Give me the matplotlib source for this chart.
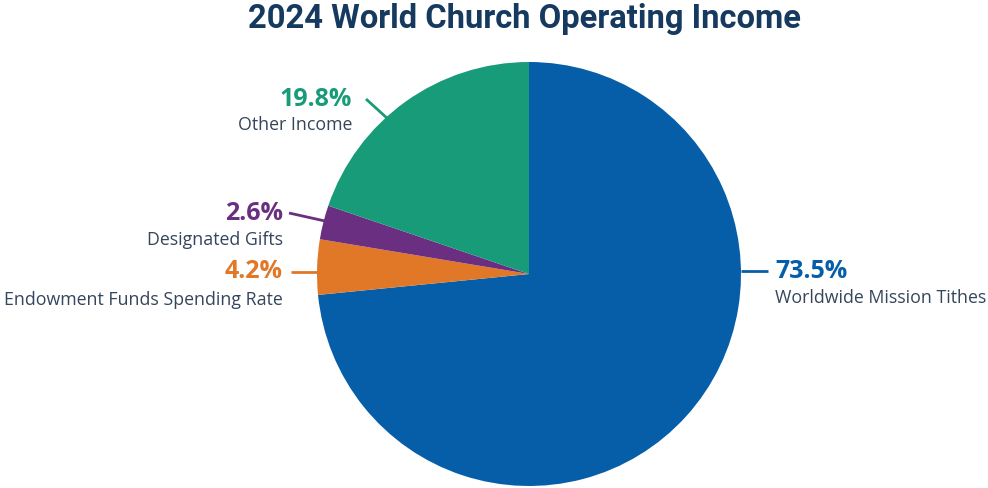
import matplotlib
matplotlib.use("Agg")
import matplotlib.pyplot as plt

title = "2024 World Church Operating Income"
categories = ["Worldwide Mission Tithes", "Endowment Funds Spending Rate",
              "Designated Gifts", "Other Income"]
values = [73.5, 4.2, 2.6, 19.8]
pct_labels = ["73.5%", "4.2%", "2.6%", "19.8%"]
colors = ["#075ea8", "#e07828", "#6b2f82", "#179b78"]

W, H = 988, 489
fig = plt.figure(figsize=(W / 100, H / 100), dpi=100)
fig.patch.set_facecolor("white")

cx, cy, r = 529, 275, 212
ax = fig.add_axes([(cx - r) / W, (H - cy - r) / H, 2 * r / W, 2 * r / H])
ax.pie(values, colors=colors, startangle=90, counterclock=False, radius=1,
       wedgeprops=dict(linewidth=0))
ax.set_xlim(-1, 1)
ax.set_ylim(-1, 1)
ax.set_aspect("auto")
ax.axis("off")

ov = fig.add_axes([0, 0, 1, 1], facecolor="none")
ov.set_xlim(0, W)
ov.set_ylim(H, 0)
ov.axis("off")

ov.text(524, 19, title, ha="center", va="center", fontsize=23.6,
        fontweight="bold", color="#163a5f", family="Roboto")

text_col = "#34455c"
# label layout: (pct x, pct y, name y, ha, line pts)
layout = [
    (775, 271, 298, "left", [(741, 272), (768, 272)]),
    (283, 271, 300, "right", [(318, 273), (291, 273)]),
    (283, 213, 240, "right", [(325, 222), (289, 214)]),
    (352, 99, 125, "right", [(388, 120), (366, 100)]),
]
for (x, yp, yn, ha, pts), name, pct, c in zip(layout, categories, pct_labels, colors):
    ov.text(x, yp, pct, ha=ha, va="center", fontsize=18, fontweight="bold",
            color=c, family="Open Sans")
    ov.text(x, yn, name, ha=ha, va="center", fontsize=12.8,
            color=text_col, family="Open Sans")
    ov.plot([pts[0][0], pts[1][0]], [pts[0][1], pts[1][1]], color=c, lw=2,
            solid_capstyle="butt")

fig.savefig("out.png", dpi=100, facecolor="white")
